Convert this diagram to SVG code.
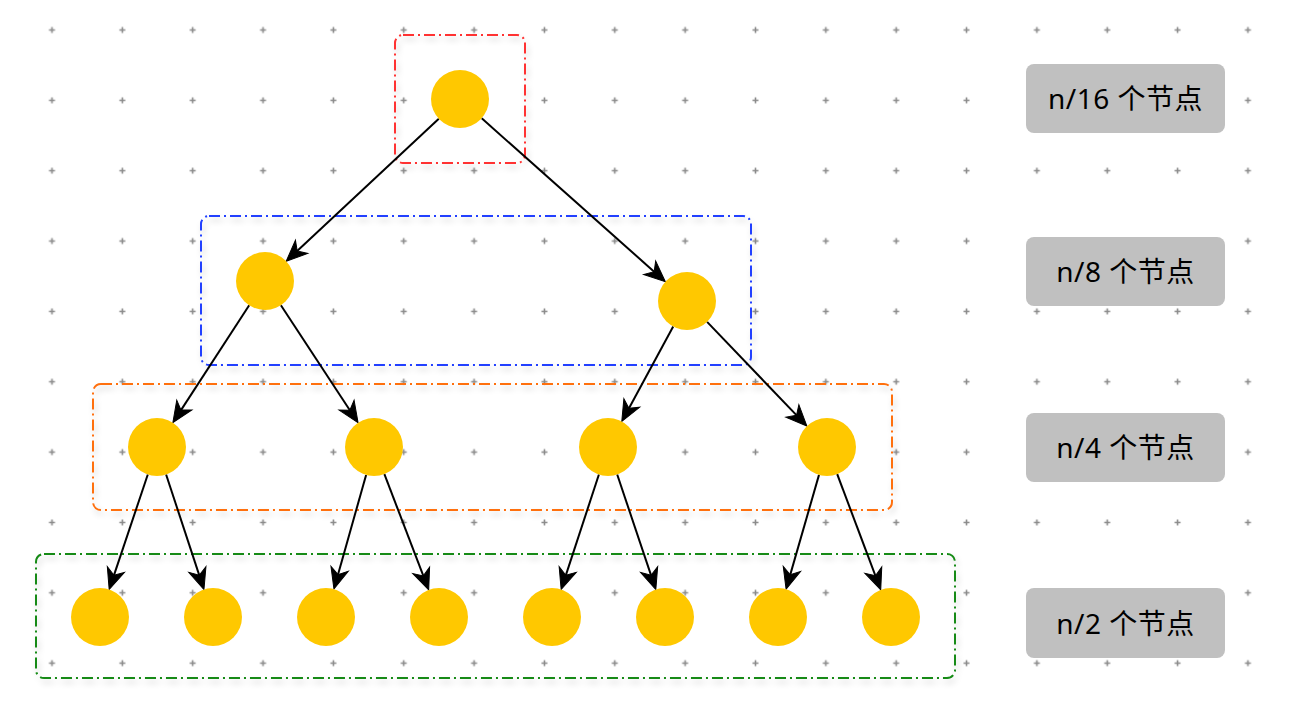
<svg xmlns="http://www.w3.org/2000/svg" width="1302" height="702" viewBox="0 0 1302 702">
<style>
.node{fill:#FFC800}
.edge{stroke:#000;stroke-width:2;fill:none;marker-end:url(#arr)}
.grp{fill:none;stroke-width:2;stroke-dasharray:11 4 2 4;filter:url(#sh)}
.lbl rect{fill:#C0C0C0}
.lbl text{font-family:"Noto Sans","Noto Sans CJK SC",sans-serif;font-size:28px;fill:#000;text-anchor:middle;letter-spacing:0.5px}
</style>
<defs>
<pattern id="grid" patternUnits="userSpaceOnUse" x="16.825" y="-5.175" width="70.35" height="70.35">
<path d="M32.175 35.175h6M35.175 32.175v6" stroke="#8a8a8a" stroke-width="1.6"/>
</pattern>
<filter id="sh" x="-10%" y="-10%" width="120%" height="130%">
<feGaussianBlur in="SourceAlpha" stdDeviation="3"/>
<feOffset dx="2" dy="4" result="b"/>
<feComponentTransfer in="b" result="c"><feFuncA type="linear" slope="0.2"/></feComponentTransfer>
<feMerge><feMergeNode in="c"/><feMergeNode in="SourceGraphic"/></feMerge>
</filter>
<marker id="arr" markerUnits="userSpaceOnUse" markerWidth="40" markerHeight="40" refX="0" refY="0" orient="auto" overflow="visible">
<path d="M12 0L-9 -9L-3 0L-9 9Z" fill="#000" stroke="#000" stroke-width="1" stroke-linejoin="miter"/>
</marker>
</defs>
<rect width="1302" height="702" fill="#fff"/>
<rect width="1302" height="702" fill="url(#grid)"/>
<g id="groups">
<rect id="box16" class="grp" x="395" y="35" width="130" height="128" rx="8" stroke="#FF3030"/>
<rect id="box8" class="grp" x="201" y="216" width="550" height="149" rx="8" stroke="#2040FF"/>
<rect id="box4" class="grp" x="93" y="384" width="799" height="126" rx="8" stroke="#FF7010"/>
<rect id="box2" class="grp" x="36" y="554" width="919" height="124" rx="8" stroke="#138A13"/>
</g>
<g id="connectors">
<path class="edge" d="M438.8 118.8L295.0 253.0"/>
<path class="edge" d="M481.7 118.3L656.4 273.7"/>
<path class="edge" d="M249.2 305.3L179.4 412.6"/>
<path class="edge" d="M280.9 305.2L351.5 412.7"/>
<path class="edge" d="M673.2 326.5L627.5 410.9"/>
<path class="edge" d="M707.1 321.9L798.6 417.4"/>
<path class="edge" d="M147.8 474.5L113.0 578.1"/>
<path class="edge" d="M166.1 474.5L200.2 578.1"/>
<path class="edge" d="M366.1 474.9L337.2 577.5"/>
<path class="edge" d="M384.4 474.1L424.4 578.7"/>
<path class="edge" d="M598.9 474.5L564.9 578.1"/>
<path class="edge" d="M617.2 474.5L652.0 578.1"/>
<path class="edge" d="M819.0 474.9L789.4 577.6"/>
<path class="edge" d="M837.2 474.1L876.5 578.6"/>
</g>
<g id="root"><circle class="node" cx="460" cy="99" r="29"/></g>
<g id="n2a"><circle class="node" cx="265" cy="281" r="29"/></g>
<g id="n2b"><circle class="node" cx="687" cy="301" r="29"/></g>
<g id="n3a"><circle class="node" cx="157" cy="447" r="29"/></g>
<g id="n3b"><circle class="node" cx="374" cy="447" r="29"/></g>
<g id="n3c"><circle class="node" cx="608" cy="447" r="29"/></g>
<g id="n3d"><circle class="node" cx="827" cy="447" r="29"/></g>
<g id="n4a"><circle class="node" cx="100" cy="617" r="29"/></g>
<g id="n4b"><circle class="node" cx="213" cy="617" r="29"/></g>
<g id="n4c"><circle class="node" cx="326" cy="617" r="29"/></g>
<g id="n4d"><circle class="node" cx="439" cy="617" r="29"/></g>
<g id="n4e"><circle class="node" cx="552" cy="617" r="29"/></g>
<g id="n4f"><circle class="node" cx="665" cy="617" r="29"/></g>
<g id="n4g"><circle class="node" cx="778" cy="617" r="29"/></g>
<g id="n4h"><circle class="node" cx="891" cy="617" r="29"/></g>
<g id="label16" class="lbl"><rect x="1026" y="64" width="199" height="69" rx="8"/><text x="1125.5" y="109">n/16 个节点</text></g>
<g id="label8" class="lbl"><rect x="1026" y="237" width="199" height="69" rx="8"/><text x="1125.5" y="282">n/8 个节点</text></g>
<g id="label4" class="lbl"><rect x="1026" y="413" width="199" height="69" rx="8"/><text x="1125.5" y="458">n/4 个节点</text></g>
<g id="label2" class="lbl"><rect x="1026" y="588" width="199" height="70" rx="8"/><text x="1125.5" y="634">n/2 个节点</text></g>
</svg>
